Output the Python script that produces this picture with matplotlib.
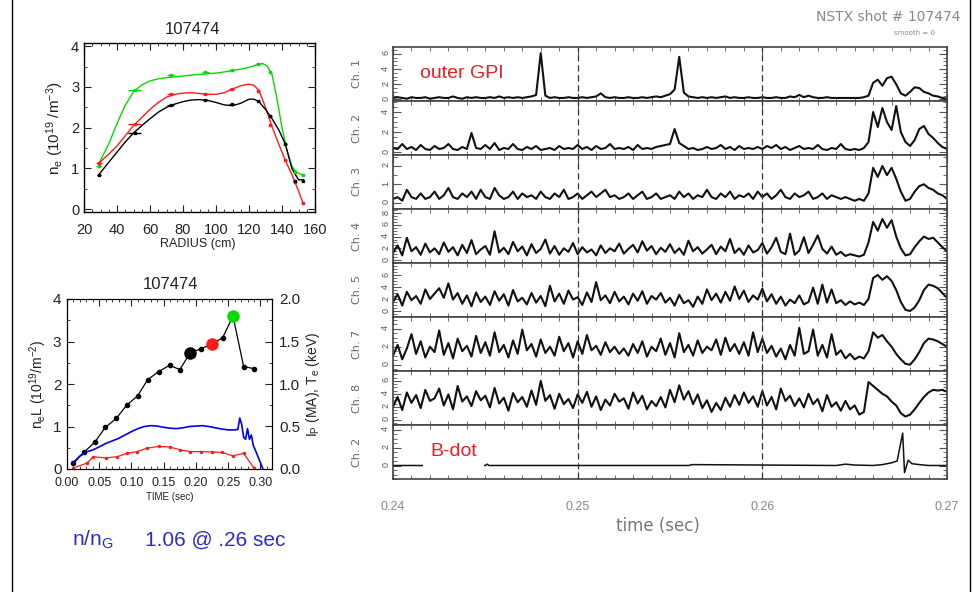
import matplotlib

matplotlib.use("Agg")

import matplotlib.pyplot as plt  # noqa: E402
import numpy as np  # noqa: E402
from matplotlib.lines import Line2D  # noqa: E402
from matplotlib.ticker import MultipleLocator  # noqa: E402

W, H = 973, 592
RED = "#ff1a1a"
GREEN = "#00dd00"
BLUE = "#0000ee"
TXTRED = "#ee1c24"
TXTBLUE = "#2b2bd0"
GREY = "#777777"

plt.rcParams["font.family"] = ["Liberation Sans", "DejaVu Sans"]
plt.rcParams["mathtext.fontset"] = "custom"
plt.rcParams["mathtext.rm"] = "Liberation Sans"
plt.rcParams["mathtext.it"] = "Liberation Sans"

# ---- density profiles (top left) -------------------------------------------
r_pts = [29, 50.7, 72.5, 93.5, 109.6, 125.7, 133, 142, 147.7, 152.5]
ne_green = [1.07, 2.93, 3.29, 3.38, 3.42, 3.57, 3.38, 1.60, 0.91, 0.84]
ne_red = [1.13, 2.09, 2.83, 2.83, 2.95, 2.91, 2.07, 1.21, 0.66, 0.15]
ne_black = [0.83, 1.87, 2.55, 2.69, 2.57, 2.66, 2.28, 1.60, 0.68, 0.70]
xerr_green = [1.5, 4, 2, 2, 1.5, 1.5, 1, 1, 1, 1]
xerr_red = [2, 4, 2, 1.5, 1.5, 1, 1, 1, 1, 1]
xerr_black = [1, 4, 2, 1.5, 1.5, 1, 1, 1, 1, 1]

fit_r_green = [29, 35, 40, 45, 50, 55, 60, 65, 70, 80, 90, 100, 110, 120, 125,
               128, 131, 134, 137, 140, 143, 146, 149, 152]
fit_green = [1.12, 1.6, 2.1, 2.55, 2.88, 3.05, 3.15, 3.2, 3.23, 3.27, 3.31, 3.34,
             3.4, 3.48, 3.55, 3.58, 3.52, 3.3, 2.7, 2.0, 1.45, 1.05, 0.9, 0.85]
fit_r = [29, 35, 40, 45, 50, 55, 60, 65, 70, 75, 80, 85, 90, 95, 100, 105, 110,
         115, 120, 123, 126, 130, 134, 138, 142, 146, 150, 153]
fit_red = [1.13, 1.35, 1.55, 1.8, 2.05, 2.25, 2.45, 2.62, 2.75, 2.82, 2.85, 2.86,
           2.84, 2.82, 2.82, 2.86, 2.95, 3.03, 3.07, 3.04, 2.92, 2.5, 2.02, 1.6,
           1.2, 0.85, 0.45, 0.12]
fit_black = [0.85, 1.15, 1.4, 1.65, 1.87, 2.05, 2.22, 2.38, 2.5, 2.58, 2.64, 2.68,
             2.69, 2.67, 2.62, 2.56, 2.54, 2.6, 2.7, 2.7, 2.64, 2.45, 2.22, 1.95,
             1.6, 1.0, 0.72, 0.72]

# ---- time traces (bottom left) ---------------------------------------------
t_nel = [0.009, 0.026, 0.043, 0.0595, 0.0765, 0.093, 0.1096, 0.125, 0.142, 0.159,
         0.175, 0.191, 0.208, 0.225, 0.2415, 0.2575, 0.274, 0.2906]
nel = [0.15, 0.39, 0.63, 0.98, 1.19, 1.51, 1.72, 2.10, 2.29, 2.44, 2.34, 2.73,
       2.83, 2.94, 3.09, 3.60, 2.41, 2.36]
big_idx = [11, 13, 15]
big_col = ["black", RED, GREEN]

t_ip = [0.009, 0.02, 0.03, 0.04, 0.05, 0.06, 0.07, 0.08, 0.09, 0.10, 0.11, 0.12,
        0.13, 0.14, 0.15, 0.16, 0.17, 0.18, 0.19, 0.20, 0.21, 0.22, 0.23, 0.24,
        0.25, 0.26, 0.265, 0.268, 0.271, 0.274, 0.277, 0.28, 0.283, 0.286, 0.289,
        0.292, 0.296, 0.30, 0.304]
ip_ma = [0.06, 0.15, 0.2, 0.225, 0.26, 0.3, 0.33, 0.36, 0.4, 0.44, 0.475, 0.5,
         0.51, 0.505, 0.49, 0.48, 0.475, 0.485, 0.5, 0.505, 0.51, 0.5, 0.485, 0.47,
         0.46, 0.46, 0.465, 0.6, 0.525, 0.375, 0.35, 0.475, 0.35, 0.4, 0.275,
         0.225, 0.15, 0.075, 0.0]
t_te = [0.009, 0.031, 0.041, 0.06, 0.078, 0.093, 0.109, 0.124, 0.142, 0.159,
        0.176, 0.191, 0.208, 0.225, 0.241, 0.257, 0.274, 0.29]
te_kev = [0.01, 0.07, 0.145, 0.13, 0.145, 0.185, 0.205, 0.245, 0.265, 0.26, 0.225,
          0.205, 0.205, 0.2, 0.195, 0.155, 0.185, 0.01]

# ---- GPI channels (right), sampled every 0.25 ms from 0.24 to 0.27 s --------
ch1 = [0.2, 0.3, 0.2, 0.1, 0.3, 0.2, 0.2, 0.3, 0.1, 0.2,
       0.3, 0.2, 0.2, 0.4, 0.2, 0.1, 0.3, 0.2, 0.3, 0.2,
       0.2, 0.3, 0.2, 0.4, 0.2, 0.3, 0.2, 0.3, 0.2, 0.3,
       0.4, 0.6, 6.1, 0.5, 0.2, 0.3, 0.2, 0.2, 0.3, 0.2,
       0.2, 0.3, 0.2, 0.3, 0.4, 0.8, 0.3, 0.2, 0.3, 0.2,
       0.2, 0.3, 0.2, 0.2, 0.3, 0.2, 0.3, 0.4, 0.3, 0.5,
       0.7, 1.3, 5.6, 0.9, 0.4, 0.3, 0.2, 0.3, 0.2, 0.3,
       0.2, 0.3, 0.4, 0.2, 0.3, 0.2, 0.2, 0.3, 0.2, 0.2,
       0.3, 0.2, 0.2, 0.3, 0.2, 0.2, 0.4, 0.3, 0.6, 0.3,
       0.5, 0.3, 0.2, 0.2, 0.3, 0.2, 0.2, 0.2, 0.2, 0.2,
       0.2, 0.2, 0.3,
       0.5, 2.2, 2.6, 1.8, 2.8, 3.0, 2.0, 0.8, 0.5, 1.0, 1.6, 1.5, 1.0, 0.8, 0.5,
       0.4, 0.2, 0.1]
ch2 = [0.4, 0.3, 0.8, 0.3, 0.5, 0.2, 0.7, 0.3, 0.2, 0.6,
       0.3, 0.4, 0.8, 0.3, 0.2, 0.5, 0.3, 1.9, 0.4, 0.3,
       0.7, 0.3, 0.9, 0.2, 0.4, 0.3, 0.8, 0.3, 0.2, 0.5,
       0.3, 0.6, 0.2, 0.3, 0.4, 0.2, 0.6, 0.3, 0.4, 0.3,
       0.7, 0.3, 0.5, 0.2, 0.6, 0.3, 0.4, 0.8, 0.3, 0.4,
       0.3, 0.5, 0.2, 0.7, 0.3, 0.4, 0.3, 0.5, 0.6, 0.7,
       0.8, 2.3, 0.9, 0.6, 0.3, 0.4, 0.2, 0.3, 0.5, 0.3,
       0.4, 0.7, 0.3, 0.5, 0.2, 0.6, 0.3, 0.4, 0.3, 0.5,
       0.3, 0.6, 0.4, 0.7, 0.3, 0.5, 0.2, 0.4, 0.6, 0.3,
       0.4, 0.3, 0.7, 0.3, 0.2, 0.4, 0.3, 0.8, 0.3, 0.2,
       0.3, 0.2, 0.4,
       1.0, 4.0, 2.5, 4.4, 3.0, 2.2, 4.6, 2.0, 1.0, 0.6, 1.2, 2.3, 2.6, 1.8, 1.4,
       0.9, 0.5, 0.3]
ch3 = [0.2, 0.3, 0.1, 0.7, 0.3, 0.2, 0.5, 0.2, 0.3, 0.6,
       0.2, 0.4, 0.8, 0.3, 0.2, 0.5, 0.3, 0.6, 0.2, 0.7,
       0.3, 0.2, 0.8, 0.4, 0.2, 0.3, 0.6, 0.2, 0.5, 0.3,
       0.4, 0.2, 0.6, 0.3, 0.2, 0.5, 0.3, 0.7, 0.2, 0.3,
       0.5, 0.2, 0.4, 0.6, 0.3, 0.5, 0.7, 0.3, 0.4, 0.2,
       0.3, 0.5, 0.2, 0.4, 0.6, 0.2, 0.3, 0.5, 0.2, 0.3,
       0.4, 0.2, 0.6, 0.3, 0.5, 0.2, 0.4, 0.3, 0.7, 0.3,
       0.2, 0.5, 0.3, 0.6, 0.2, 0.4, 0.3, 0.5, 0.2, 0.6,
       0.3, 0.5, 0.2, 0.4, 0.7, 0.3, 0.2, 0.5, 0.3, 0.4,
       0.6, 0.2, 0.3, 0.5, 0.2, 0.4, 0.3, 0.2, 0.3, 0.2,
       0.1, 0.2, 0.1,
       0.5, 1.9, 1.4, 2.0, 1.5, 1.9, 1.3, 0.6, 0.1, 0.2, 0.6, 0.9, 1.0, 0.8, 0.7,
       0.5, 0.4, 0.2]
ch4 = [1.2, 2.5, 0.8, 3.8, 1.5, 2.2, 0.9, 2.8, 1.3, 2.0,
       1.0, 3.0, 1.4, 2.2, 0.8, 2.6, 1.2, 3.4, 1.0, 1.8,
       2.4, 0.9, 4.9, 1.3, 2.1, 1.0, 3.1, 1.5, 2.3, 0.8,
       2.7, 1.2, 1.9, 3.5, 1.1, 2.4, 0.9, 2.0, 1.4, 2.9,
       1.0, 2.2, 1.3, 1.8, 0.8, 2.5, 1.2, 2.0, 1.5, 2.8,
       1.1, 1.9, 2.6, 1.3, 3.2, 1.6, 2.4, 1.0, 2.1, 1.4,
       2.7, 1.2, 2.0, 0.9, 3.3, 1.5, 2.2, 1.1, 1.8, 2.6,
       1.0, 2.3, 1.5, 3.6, 1.2, 2.0, 0.9, 2.5, 1.3, 1.7,
       2.9, 1.1, 2.2, 3.8, 1.4, 1.0, 4.5, 0.9, 1.6, 3.9,
       1.2, 2.6, 4.2, 1.9, 1.1, 2.3, 0.9, 1.4, 0.7, 1.0,
       0.8, 0.6, 0.9,
       3.0, 6.5, 5.0, 7.0, 5.5, 6.8, 4.0, 2.0, 0.8, 1.0, 2.2, 3.2, 4.0, 3.6, 3.8,
       3.0, 2.2, 1.5]
ch5 = [1.5, 2.8, 0.9, 3.2, 1.8, 2.5, 1.2, 3.6, 2.0, 2.9,
       3.8, 2.2, 4.6, 1.9, 3.0, 1.2, 2.6, 0.8, 3.1, 1.5,
       2.4, 1.0, 3.3, 1.7, 2.8, 0.9, 3.5, 1.6, 2.2, 1.1,
       3.0, 1.4, 2.5, 0.8, 4.2, 1.6, 2.9, 1.2, 3.4, 1.9,
       2.3, 1.0, 3.1, 1.5, 4.8, 1.8, 2.6, 1.3, 3.2, 1.6,
       2.4, 1.1, 2.9, 1.7, 3.3, 1.2, 2.5, 1.9, 3.0, 1.4,
       2.2, 0.9, 2.7, 1.3, 1.8, 0.7, 2.4, 1.2, 3.6, 1.8,
       2.9, 1.4, 3.2, 1.7, 4.1, 2.0, 3.4, 1.5, 2.6, 1.9,
       3.7, 1.6, 2.8, 1.2, 2.4, 0.9, 1.9, 1.3, 2.6, 1.1,
       1.5, 3.9, 1.2, 4.4, 1.4, 3.6, 1.3, 1.8, 1.0, 1.6,
       1.1, 1.4, 1.0,
       2.0, 5.5, 6.0, 5.2, 5.8, 5.0, 3.5, 1.5, 0.2, 0.0, 0.6, 1.8, 3.5, 4.4, 4.2,
       3.8, 3.0, 2.2]
ch7 = [1.0, 2.2, 0.6, 1.8, 3.4, 1.2, 2.6, 0.8, 2.0, 1.4,
       3.8, 1.1, 2.4, 0.7, 2.9, 1.5, 2.1, 0.9, 3.2, 1.3,
       2.5, 1.0, 3.6, 1.4, 2.2, 0.8, 2.7, 1.2, 3.9, 1.6,
       2.3, 0.9, 2.8, 1.3, 2.0, 1.0, 3.1, 1.5, 2.4, 0.8,
       2.6, 1.2, 3.3, 1.6, 2.1, 1.1, 2.5, 1.4, 2.0, 1.2,
       1.8, 1.0, 2.3, 1.3, 2.6, 0.9, 2.0, 1.5, 2.9, 1.1,
       2.4, 0.8, 3.5, 1.4, 2.2, 1.0, 2.7, 1.3, 2.0, 1.6,
       2.8, 1.1, 3.0, 1.5, 2.3, 1.2, 2.5, 1.0, 3.6, 1.4,
       2.9, 1.3, 2.1, 0.9, 1.8, 0.6, 2.2, 1.0, 4.1, 1.2,
       1.5, 3.9, 1.0, 2.2, 0.8, 3.4, 1.1, 1.6, 0.7, 1.2,
       0.6, 0.9, 0.7,
       1.5, 3.6, 3.0, 3.3, 2.6, 2.0, 1.2, 0.6, 0.1, 0.0, 0.6, 1.4, 2.4, 2.9, 2.8,
       2.6, 2.3, 2.0]
ch8 = [2.0, 3.5, 1.5, 4.2, 2.6, 3.8, 1.8, 4.6, 2.9, 3.3,
       4.8, 2.2, 3.9, 1.6, 5.2, 2.8, 3.6, 2.1, 4.4, 3.0,
       3.7, 1.9, 4.9, 2.5, 3.4, 1.4, 4.1, 2.7, 3.5, 2.0,
       4.5, 2.3, 6.0, 2.9, 3.8, 1.7, 4.0, 2.4, 3.2, 1.8,
       3.9, 2.6, 4.3, 2.0, 3.6, 1.5, 3.1, 2.2, 4.0, 2.8,
       3.3, 1.7, 4.2, 2.5, 3.7, 1.6, 2.9, 2.1, 3.5, 1.9,
       4.6, 2.7, 5.3, 3.1, 4.4, 2.4, 3.9, 1.8, 3.0, 1.2,
       2.6, 1.5, 3.4, 2.0, 3.8, 2.3, 4.2, 2.6, 3.6, 2.0,
       4.4, 2.2, 3.5, 1.6, 4.8, 2.9, 3.7, 2.1, 3.3, 1.9,
       4.0, 2.4, 3.2, 1.3, 3.8, 2.0, 2.7, 1.4, 2.9, 1.6,
       2.2, 0.8, 1.2,
       5.8, 5.2, 4.6, 4.0, 3.6, 2.8, 2.2, 1.0, 0.5, 0.8, 1.6, 2.6, 3.5, 4.2, 4.6,
       4.5, 4.6, 4.3]
t_bdot = [0.2400, 0.2450, 0.2451, 0.2452, 0.2500, 0.2560, 0.2562, 0.2640, 0.2645,
          0.2650, 0.2660, 0.2665, 0.2670, 0.2673, 0.2676, 0.2677, 0.2679, 0.2681,
          0.2685, 0.2690, 0.2700]
bdot = [0.0, 0.0, 0.15, 0.0, 0.0, 0.0, 0.1, 0.0, 0.15, 0.05, 0.0, 0.1, 0.3, 0.5,
        3.6, -0.8, 0.6, 0.2, 0.1, 0.0, 0.0]

ch_names = ["Ch. 1", "Ch. 2", "Ch. 3", "Ch. 4", "Ch. 5", "Ch. 7", "Ch. 8", "Ch. 2"]


def px(l, t, r, b):
    return [l / W, 1 - b / H, (r - l) / W, (b - t) / H]


def ftext(x, y, s, **kw):
    fig.text(x / W, 1 - y / H, s, **kw)


fig = plt.figure(figsize=(W / 100, H / 100), dpi=100)
fig.patch.set_facecolor("white")

# slide frame
for xf in (12, 970):
    fig.add_artist(Line2D([xf / W, xf / W], [0, 1], color="black", lw=1.0))

# ---- top-left: density profiles --------------------------------------------
ax = fig.add_axes(px(84, 43, 315, 212))
for fr, fv, pv, xe, c in ((fit_r_green, fit_green, ne_green, xerr_green, GREEN),
                          (fit_r, fit_red, ne_red, xerr_red, RED),
                          (fit_r, fit_black, ne_black, xerr_black, "black")):
    ax.plot(fr, fv, color=c, lw=1.0)
    ax.errorbar(r_pts, pv, xerr=xe, fmt="s", ms=1.5, color=c, ecolor=c,
                elinewidth=1.0, capsize=0)
ax.set_xlim(20, 160)
ax.set_ylim(-0.07, 4.08)
ax.set_xticks(range(20, 161, 20))
ax.set_yticks([0, 1, 2, 3, 4])
ax.xaxis.set_minor_locator(MultipleLocator(5))
ax.yaxis.set_minor_locator(MultipleLocator(0.5))
ax.tick_params(which="both", direction="in", top=True, right=True,
               labelsize=10.5, colors="#222")
ax.tick_params(which="major", length=5)
ax.tick_params(which="minor", length=2.5)
ax.tick_params(axis="x", pad=8)
for s in ax.spines.values():
    s.set_linewidth(1.0)
ftext(192, 30, "107474", ha="center", va="center", fontsize=12, color="#222")
ftext(198, 244, "RADIUS (cm)", ha="center", va="center", fontsize=9, color="#222")
ftext(55, 128, r"n$_e$ (10$^{19}$ /m$^{-3}$)", ha="center", va="center",
      rotation=90, fontsize=11, color="#222")

# ---- bottom-left: line density, Ip, Te -------------------------------------
axb = fig.add_axes(px(67, 299, 272, 469))
axb.plot(t_nel, nel, color="black", lw=0.9, marker="o", ms=3)
for i, c in zip(big_idx, big_col):
    axb.plot(t_nel[i], nel[i], "o", ms=8, color=c)
axb.set_xlim(0, 0.318)
axb.set_ylim(0, 4)
axb.set_xticks(np.arange(0, 0.31, 0.05))
axb.set_xticklabels(["0.00", "0.05", "0.10", "0.15", "0.20", "0.25", "0.30"])
axb.set_yticks([0, 1, 2, 3, 4])
axb.xaxis.set_minor_locator(MultipleLocator(0.01))
axb.yaxis.set_minor_locator(MultipleLocator(0.5))
axb.tick_params(which="both", direction="in", top=True, colors="#222")
axb.tick_params(which="major", length=5)
axb.tick_params(which="minor", length=2.5)
axb.tick_params(axis="x", labelsize=9, pad=6)
axb.tick_params(axis="y", labelsize=11, pad=4)

axr = axb.twinx()
axr.plot(t_ip, ip_ma, color=BLUE, lw=1.2)
axr.plot(t_te, te_kev, color=RED, lw=0.9, marker="o", ms=1.5)
axr.set_ylim(0, 2)
axr.set_yticks([0, 0.5, 1.0, 1.5, 2.0])
axr.set_yticklabels(["0.0", "0.5", "1.0", "1.5", "2.0"])
axr.yaxis.set_minor_locator(MultipleLocator(0.25))
axr.tick_params(which="both", direction="in", labelsize=11, colors="#222", pad=5)
axr.tick_params(which="major", length=5)
axr.tick_params(which="minor", length=2.5)
ftext(170, 285, "107474", ha="center", va="center", fontsize=12, color="#222")
ftext(170, 497, "TIME (sec)", ha="center", va="center", fontsize=7, color="#222")
ftext(38, 384, r"n$_e$L (10$^{19}$/m$^{-2}$)", ha="center", va="center",
      rotation=90, fontsize=10, color="#222")
ftext(313, 384, r"I$_P$ (MA), T$_e$ (keV)", ha="center", va="center",
      rotation=90, fontsize=10, color="#222")

ftext(72, 540, r"n/n$_\mathrm{G}$", ha="left", va="center", fontsize=15,
      color=TXTBLUE)
ftext(145, 540, "1.06 @ .26 sec", ha="left", va="center", fontsize=15,
      color=TXTBLUE)

# ---- right: GPI channels + B-dot -------------------------------------------
t_grid = np.linspace(0.24, 0.27, len(ch1))
series = [(t_grid, ch1), (t_grid, ch2), (t_grid, ch3), (t_grid, ch4),
          (t_grid, ch5), (t_grid, ch7), (t_grid, ch8), (t_bdot, bdot)]
ylims = [(-0.2, 6.9), (-0.3, 5.1), (-0.35, 2.6), (-0.5, 8.7),
         (-1.0, 8.0), (-0.7, 5.3), (-0.8, 7.5), (-1.5, 4.5)]
yticks = [[0, 2, 4, 6], [0, 2, 4], [0, 1, 2], [0, 2, 4, 6, 8],
          [0, 2, 4, 6], [0, 2, 4], [0, 2, 4, 6], [0, 2, 4]]

top, bot = 47, 479
ph = (bot - top) / len(series)
for k, ((tt, yy), yl, yt, name) in enumerate(zip(series, ylims, yticks, ch_names)):
    a = fig.add_axes(px(393, top + k * ph, 947, top + (k + 1) * ph))
    a.plot(tt, yy, color="#111", lw=1.5 if k < 7 else 1.1)
    for tv in (0.25, 0.26):
        a.axvline(tv, color="#333", lw=0.9, dashes=(5, 3))
    a.set_xlim(0.24, 0.27)
    a.set_ylim(*yl)
    a.set_yticks(yt)
    a.yaxis.set_minor_locator(MultipleLocator(0.5))
    a.set_xticks([0.24, 0.25, 0.26, 0.27])
    a.xaxis.set_minor_locator(MultipleLocator(0.001))
    a.tick_params(which="both", direction="in", top=True, right=True,
                  colors="#555", labelsize=6.5)
    a.tick_params(which="major", length=6)
    a.tick_params(which="minor", length=3)
    a.tick_params(axis="y", labelrotation=90, pad=2)
    for s in a.spines.values():
        s.set_linewidth(1.2)
        s.set_color("#444")
    if k < len(series) - 1:
        a.tick_params(axis="x", labelbottom=False)
    else:
        a.set_xticklabels(["0.24", "0.25", "0.26", "0.27"])
        a.tick_params(axis="x", labelsize=9, colors="#888", pad=16)
    ftext(357, top + (k + 0.5) * ph, name, ha="center", va="center",
          rotation=90, fontsize=8, color="#666", family="DejaVu Sans")

ftext(658, 526, "time (sec)", ha="center", va="center", fontsize=12,
      color=GREY, family="DejaVu Sans")
ftext(960, 17, "NSTX shot # 107474", ha="right", va="center", fontsize=10,
      color="#888", family="DejaVu Sans")
ftext(935, 33, "smooth = 0", ha="right", va="center", fontsize=5,
      color="#888", family="DejaVu Sans")

ftext(420, 73, "outer GPI", ha="left", va="center", fontsize=14, color=TXTRED,
      bbox=dict(boxstyle="square,pad=0.3", fc="white", ec="none"))
ftext(430, 452, "B-dot", ha="left", va="center", fontsize=14, color=TXTRED,
      bbox=dict(boxstyle="square,pad=0.35", fc="white", ec="none"))

fig.savefig("out.png", dpi=100, facecolor="white")
